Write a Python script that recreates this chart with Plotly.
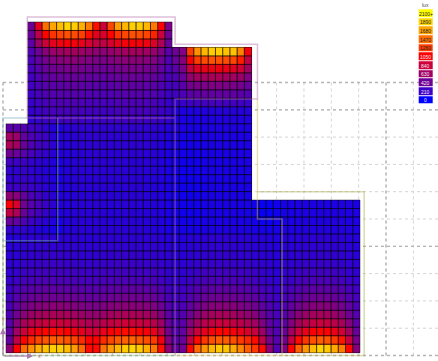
import plotly.graph_objects as go

# Illuminance per calculation cell (lux), read row by row from top to bottom.
# None marks cells outside the floor plan.
_ = None
rows_top = [
 [_,_,_, 420,950,1470,1680,1790,1880,1850,1720,1520,1100,850,1300,1650,1750,1860,1850,1750,1500,1050,480, _,_,_,_,_,_,_,_,_,_,_, _,_,_,_,_,_,_,_,_,_,_,_,_,_,_],
 [_,_,_, 400,760,1060,1230,1290,1340,1320,1270,1100,950,900,1060,1230,1300,1340,1330,1290,1170,830,430, _,_,_,_,_,_,_,_,_,_,_, _,_,_,_,_,_,_,_,_,_,_,_,_,_,_],
 [_,_,_, 350,620,850,950,1000,1020,1010,960,880,800,780,880,970,1010,1030,1020,990,910,700,400, _,_,_,_,_,_,_,_,_,_,_, _,_,_,_,_,_,_,_,_,_,_,_,_,_,_],
 [_,_,_, 300,420,530,600,630,650,650,620,590,560,550,590,620,650,660,650,630,590,490,330, 420,500,1260,1600,1750,1850,1850,1800,1800,1550,1000, _,_,_,_,_,_,_,_,_,_,_,_,_,_,_],
 [_,_,_, 280,370,450,500,530,540,540,520,500,480,470,500,530,540,540,540,530,500,420,300, 400,520,1030,1260,1320,1350,1350,1330,1300,1150,800, _,_,_,_,_,_,_,_,_,_,_,_,_,_,_],
 [_,_,_, 260,330,400,430,450,460,460,450,430,420,410,430,450,460,470,460,450,430,370,280, 330,470,820,920,960,980,980,960,930,860,650, _,_,_,_,_,_,_,_,_,_,_,_,_,_,_],
 [_,_,_, 240,300,350,380,400,400,400,390,380,370,360,380,390,400,410,400,390,380,330,260, 290,400,590,640,660,680,680,660,640,610,500, _,_,_,_,_,_,_,_,_,_,_,_,_,_,_],
 [_,_,_, 230,280,320,340,350,360,360,350,340,330,320,340,350,360,360,360,350,340,300,240, 250,330,450,470,480,490,490,480,470,450,390, _,_,_,_,_,_,_,_,_,_,_,_,_,_,_],
 [_,_,_, 210,250,290,310,320,320,320,310,300,300,290,300,310,320,320,320,310,300,270,220, 230,280,340,360,370,370,370,370,360,340,310, _,_,_,_,_,_,_,_,_,_,_,_,_,_,_],
 [_,_,_, 200,230,260,280,290,290,290,280,270,270,260,270,280,290,290,290,280,270,240,200, 180,200,220,240,240,250,250,240,240,230,210, _,_,_,_,_,_,_,_,_,_,_,_,_,_,_],
 [_,_,_, 180,210,240,250,260,260,260,250,240,240,230,240,250,260,260,260,250,240,220,190, 130,110,110,120,120,130,140,140,140,140,140, _,_,_,_,_,_,_,_,_,_,_,_,_,_,_],
 [_,_,_, 170,190,210,230,230,230,230,220,220,210,210,220,230,230,240,230,220,220,200,180, 120,100,90,100,110,110,120,120,120,120,120, _,_,_,_,_,_,_,_,_,_,_,_,_,_,_],
]
rows_middle = [
 [340,340,300,240,210,170,130,120, 150,160,170,170,170,170,170,170,170,170,170,170,160,150,130, 120,100,90,90,100,100,110,110,110,110,110, _,_,_,_,_,_,_,_,_,_,_,_,_,_,_],
 [640,600,370,290,230,210,150,130, 140,150,160,170,170,170,160,160,160,170,170,160,150,140,120, 100,80,80,90,90,100,100,100,100,100,100, _,_,_,_,_,_,_,_,_,_,_,_,_,_,_],
 [700,640,400,300,240,210,160,140, 140,150,160,160,170,160,160,160,160,160,160,160,150,130,110, 90,70,70,80,90,90,100,100,100,100,100, _,_,_,_,_,_,_,_,_,_,_,_,_,_,_],
 [430,400,320,260,210,180,150,130, 130,140,150,160,160,160,150,150,160,160,160,150,150,130,110, 80,70,70,80,80,90,90,90,100,100,100, _,_,_,_,_,_,_,_,_,_,_,_,_,_,_],
 [230,220,220,190,160,140,120,110, 130,140,150,150,160,150,150,150,150,150,150,150,140,120,100, 80,60,60,70,80,90,90,90,90,100,100, _,_,_,_,_,_,_,_,_,_,_,_,_,_,_],
 [170,170,190,170,150,130,120,110, 130,140,150,150,150,150,150,150,150,150,150,140,140,120,100, 80,60,60,70,80,90,90,90,90,90,90, _,_,_,_,_,_,_,_,_,_,_,_,_,_,_],
 [180,180,200,180,160,140,120,110, 130,140,150,150,150,150,150,150,150,150,150,140,130,120,100, 70,60,60,70,80,90,90,90,90,90,90, _,_,_,_,_,_,_,_,_,_,_,_,_,_,_],
 [220,220,240,210,180,150,130,120, 130,140,150,150,150,150,150,140,150,150,150,140,130,120,100, 70,60,60,70,80,90,90,90,90,90,90, _,_,_,_,_,_,_,_,_,_,_,_,_,_,_],
 [560,530,380,280,230,180,150,130, 130,140,150,150,150,150,150,140,150,150,150,140,130,120,100, 70,60,60,70,80,90,90,90,90,90,80, _,_,_,_,_,_,_,_,_,_,_,_,_,_,_],
]
rows_lower = [
 [1030,880,430,320,260,200,160,130, 130,140,150,150,150,150,140,140,150,150,140,140,130,120,100, 80,60,60,70,80,90,90,90,90,90,80, 60,30,30,60,80,90,100,100,100,100,100,100,110,110,90],
 [800,700,400,300,240,190,150,120, 130,140,150,150,150,150,140,140,150,150,140,140,130,120,100, 80,60,60,70,80,90,90,90,100,90,80, 60,30,30,60,80,90,100,100,100,110,110,110,110,110,100],
 [400,370,280,220,180,150,120,100, 130,140,150,150,150,150,140,140,150,150,140,140,130,120,100, 80,70,70,80,90,90,100,100,100,100,90, 70,50,50,70,90,100,110,110,110,110,110,120,120,110,100],
 [180,170,170,150,120,110,90,90, 130,140,150,150,150,150,150,150,150,150,150,140,130,120,100, 90,80,80,90,100,100,110,110,110,110,100, 90,80,80,90,100,110,110,120,120,120,120,120,120,120,110],
 [130,140,150,160,160,160,160,160,160,160,150,150,150,160,160,160,160,160,160,160,160,150,140,120,130,140,150,150,160,160,160,160,150,150,140,140,130,120,130,140,150,150,160,160,160,150,150,140,130],
 [140,150,160,170,170,170,170,170,170,170,160,160,160,170,170,170,170,170,170,170,170,160,150,130,140,150,160,160,170,170,170,170,160,160,150,150,140,130,140,150,160,160,170,170,170,160,160,150,140],
 [150,160,170,180,180,190,190,190,180,180,170,170,170,180,180,190,190,190,180,180,180,170,160,140,150,160,170,170,180,180,180,180,170,170,160,160,150,140,150,160,170,170,180,180,180,170,170,160,150],
 [160,170,190,200,200,210,210,210,200,200,190,190,190,200,200,210,210,210,200,200,200,190,170,150,160,170,190,190,200,200,200,200,190,190,180,170,160,150,160,170,180,190,200,200,200,190,180,170,160],
 [170,190,210,230,230,240,240,240,230,230,220,220,220,230,230,240,240,240,230,230,230,210,180,160,170,190,210,230,230,240,240,230,230,220,210,190,170,150,170,190,210,230,230,240,230,230,210,190,170],
 [190,220,250,270,280,280,280,280,280,270,260,260,260,270,280,280,280,280,280,280,270,240,200,180,190,220,250,270,280,280,280,280,270,260,240,210,190,170,190,220,250,270,280,280,280,270,250,220,190],
 [220,280,310,340,350,360,360,360,350,340,330,320,320,340,350,360,360,360,360,350,340,300,240,210,230,270,310,340,350,360,360,350,340,320,300,260,230,200,230,270,310,340,350,360,350,340,310,270,230],
 [240,320,370,400,420,430,430,430,420,410,400,380,380,400,420,430,440,440,430,420,400,350,270,230,250,310,360,400,420,430,430,420,400,380,360,300,260,220,260,310,360,400,420,430,420,400,360,310,260],
 [270,380,450,490,520,530,540,540,530,510,490,470,470,490,520,530,540,540,530,520,490,420,310,250,280,370,440,490,520,530,530,520,490,460,430,360,290,240,290,370,440,490,520,530,520,490,440,370,290],
 [290,440,540,610,650,670,680,680,670,640,610,580,580,610,650,670,690,690,670,650,610,510,350,270,310,430,530,610,650,670,670,650,610,570,520,420,320,260,320,430,540,610,650,670,650,610,540,430,320],
 [320,520,670,750,800,830,840,840,820,790,750,700,700,750,800,830,850,850,830,800,750,620,390,290,340,520,650,750,800,830,830,800,750,700,640,500,360,280,350,510,660,750,800,830,810,760,670,520,360],
 [350,640,850,960,1020,1060,1080,1080,1050,1000,950,870,870,960,1020,1060,1090,1090,1060,1020,960,780,440,310,370,640,840,950,1020,1060,1060,1020,960,900,820,620,400,300,390,640,850,960,1030,1060,1040,970,860,650,400],
 [380,780,1060,1200,1300,1360,1400,1400,1360,1300,1200,1060,1060,1200,1300,1380,1420,1420,1380,1330,1250,1000,500,330,400,800,1080,1240,1340,1400,1390,1330,1250,1180,1080,780,460,320,440,800,1090,1240,1350,1400,1360,1260,1120,820,460],
 [560,1050,1450,1600,1720,1800,1860,1860,1780,1650,1450,1080,1080,1480,1640,1750,1850,1880,1830,1720,1500,1100,560,370,430,1060,1450,1620,1760,1830,1800,1700,1560,1400,1250,1080,560,300,500,1060,1420,1620,1780,1880,1830,1700,1520,1060,520],
]
illuminance = rows_top + rows_middle + rows_lower
for i, r in enumerate(illuminance):
    assert len(r) == 49, (i, len(r))

legend_levels = [2100, 1890, 1680, 1470, 1260, 1050, 840, 630, 420, 210, 0]
legend_labels = ["2100+", "1890", "1680", "1470", "1260", "1050", "840", "630", "420", "210", "0"]
legend_title = "lux"
level_colors = ["#0000ff", "#3c00c8", "#6e0096", "#a00064", "#cd003c", "#ff0000",
                "#ff3c00", "#ff6e00", "#ffa500", "#ffd700", "#ffff00"]

# Floor plan outlines, metres. Shared walls are listed once.
room_pink_x = [6.29, 0.89, 0.89, 6.29, 6.29, 9.3, 9.3, 6.29, 6.29]
room_pink_y = [8.7, 8.7, 12.4, 12.4, 11.4, 11.4, 9.4, 9.4, 0]
room_blue_x = [0.89, 0, 0, 2, 2]
room_blue_y = [8.7, 8.7, 4.2, 4.2, 8.7]
room_green_x = [0, 0, 6.29]
room_green_y = [4.2, 0, 0]
room_yellow_x = [9.3, 9.3, 10.2, 10.2, 6.29]
room_yellow_y = [9.4, 5, 5, 0, 0]
room_olive_x = [9.3, 13.2, 13.2, 10.2]
room_olive_y = [6, 6, 0, 0]

grid_x = list(range(0, 16))
grid_y = list(range(0, 11))
grid_x_major = [0, 14]
grid_y_major = [0, 4, 9, 10]
grid_x_end = 15.9
grid_y_end = 10

# Scale: figure pixels per metre and origin pixel
W, H = 438, 361
SX, SY = 27.36, 27.3
OX, OY = 3.0, 355.5
x_range = [-OX / SX, (W - OX) / SX]
y_range = [(OY - H) / SY, OY / SY]

cell_left = 0.11
cell_dx = 0.264
cell_top = 12.216
cell_dy = 0.3106
n_rows, n_cols = len(illuminance), len(illuminance[0])

colorscale = [[i / 10, c] for i, c in enumerate(level_colors)]

fig = go.Figure()
shapes = []


def polyline(xs, ys, color, width, dash="solid", name=""):
    fig.add_trace(go.Scatter(x=xs, y=ys, mode="lines", name=name, hoverinfo="skip",
                             line=dict(color=color, width=width, dash=dash),
                             showlegend=False))


def grid_lines(vx, hy, color, width):
    for v in vx:
        shapes.append(dict(type="line", layer="below", x0=v, x1=v, y0=0, y1=grid_y_end,
                           line=dict(color=color, width=width, dash="dot")))
    for h in hy:
        shapes.append(dict(type="line", layer="below", x0=0, x1=grid_x_end, y0=h, y1=h,
                           line=dict(color=color, width=width, dash="dot")))


grid_lines(grid_x, grid_y, "rgb(212,212,212)", 1)
grid_lines(grid_x_major, grid_y_major, "rgb(180,180,180)", 1.3)

fig.add_trace(go.Heatmap(
    z=illuminance[::-1], x0=cell_left + cell_dx / 2, dx=cell_dx,
    y0=cell_top - (n_rows - 0.5) * cell_dy, dy=cell_dy,
    zmin=0, zmax=2100, colorscale=colorscale, showscale=False, hoverongaps=False))

# Cell borders
gx, gy = [], []
for r, row in enumerate(illuminance):
    y1 = cell_top - r * cell_dy
    y0 = y1 - cell_dy
    for c, v in enumerate(row):
        if v is None:
            continue
        x0 = cell_left + c * cell_dx
        x1 = x0 + cell_dx
        gx += [x0, x1, x1, x0, x0, None]
        gy += [y0, y0, y1, y1, y0, None]
polyline(gx, gy, "rgba(0,0,0,0.45)", 1)

polyline(room_blue_x, room_blue_y, "rgba(110,170,190,0.45)", 1.5)
polyline(room_green_x, room_green_y, "rgba(130,180,110,0.45)", 1.5)
polyline(room_yellow_x, room_yellow_y, "rgba(205,190,90,0.45)", 1.5)
polyline(room_olive_x, room_olive_y, "rgba(170,170,80,0.45)", 1.5)
polyline(room_pink_x, room_pink_y, "rgba(180,110,170,0.45)", 1.5)

# Legend colour boxes
lg_left = (418.7 - OX) / SX
lg_dx = 14.3 / SX
lg_dy = 8.66 / SY
lg_bottom = (OY - 104.5) / SY
fig.add_trace(go.Heatmap(
    z=[[v] for v in legend_levels[::-1]], x0=lg_left + lg_dx / 2, dx=lg_dx,
    y0=lg_bottom + lg_dy / 2, dy=lg_dy, ygap=1,
    zmin=0, zmax=2100, colorscale=colorscale, showscale=False, hoverinfo="skip"))

ann = []
for i, (lab, lev) in enumerate(zip(legend_labels, legend_levels)):
    ann.append(dict(x=lg_left + lg_dx / 2, y=lg_bottom + (10.5 - i) * lg_dy, text=lab,
                    showarrow=False, font=dict(size=5, color="#222222" if lev >= 1260 else "#f0e8f0"),
                    xanchor="center", yanchor="middle"))
ann.append(dict(x=lg_left + lg_dx / 2, y=lg_bottom + 11 * lg_dy + 4.5 / SY, text=legend_title,
                showarrow=False, font=dict(size=5, color="#444444"),
                xanchor="center", yanchor="middle"))

# Coordinate axes icon
ann.append(dict(x=1.1, y=-0.02, ax=0, ay=-0.02, axref="x", ayref="y", xref="x", yref="y", text="",
                showarrow=True, arrowhead=2, arrowsize=1.2, arrowwidth=1, arrowcolor="rgb(170,120,170)"))
ann.append(dict(x=0, y=1.0, ax=0, ay=-0.02, axref="x", ayref="y", xref="x", yref="y", text="",
                showarrow=True, arrowhead=2, arrowsize=1.2, arrowwidth=1, arrowcolor="rgb(170,120,170)"))
ann.append(dict(x=1.32, y=-0.02, text="x", showarrow=False, font=dict(size=5, color="rgb(200,90,90)")))
ann.append(dict(x=0, y=1.34, text="y", showarrow=False, font=dict(size=5, color="rgb(200,90,90)")))

fig.update_layout(
    width=W, height=H, margin=dict(l=0, r=0, t=0, b=0),
    paper_bgcolor="white", plot_bgcolor="white", showlegend=False,
    font=dict(family="Liberation Sans, Arial, sans-serif"),
    xaxis=dict(range=x_range, visible=False, fixedrange=True),
    yaxis=dict(range=y_range, visible=False, fixedrange=True),
    annotations=ann, shapes=shapes,
)
fig.write_html("out.html", config={"displayModeBar": False},
               post_script="document.body.style.margin='0';document.documentElement.style.overflow='hidden';")
